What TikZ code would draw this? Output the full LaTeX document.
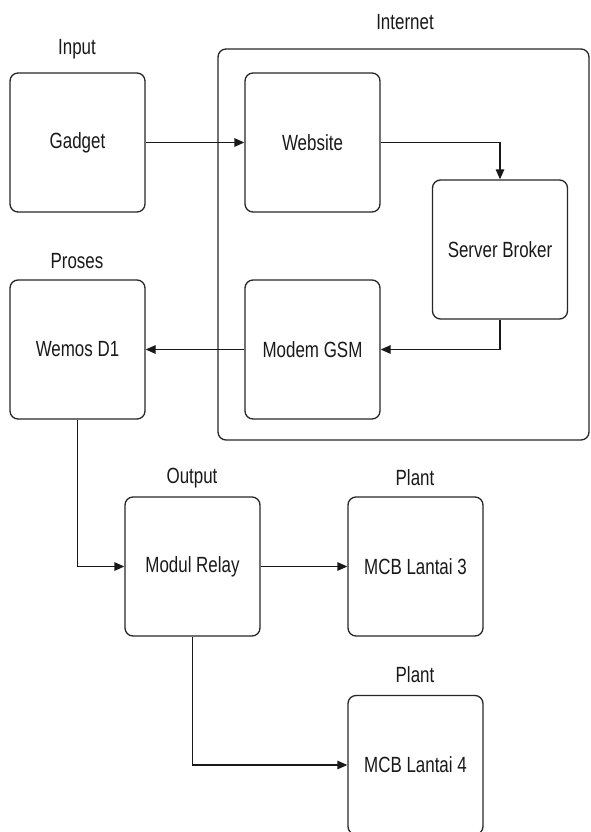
\documentclass[tikz,border=0pt]{standalone}
\usepackage{fontspec}
\setmainfont{Liberation Sans}[FakeStretch=0.77]
\usetikzlibrary{arrows.meta}
\begin{document}
\begin{tikzpicture}[x=1pt,y=-1pt,
 box/.style={draw=black!85, line width=1.3pt, rounded corners=8pt, minimum width=135pt, minimum height=139pt, inner sep=0pt, font=\fontsize{22}{25}\selectfont, text=black!90},
 lbl/.style={font=\fontsize{22}{25}\selectfont, inner sep=0pt, text=black!90},
 conn/.style={draw=black!90, line width=1.3pt, -{Triangle[length=10pt,width=8.5pt]}}]
\useasboundingbox (0,0) rectangle (590,832);
\clip (0,0) rectangle (590,832);
\node[draw=black!85, line width=1.3pt, rounded corners=8pt, minimum width=371pt, minimum height=391pt, inner sep=0pt] (inet) at (403.5,244.5) {};
\node[lbl] (linet) at (405,22) {Internet};
\node[box] (gadget) at (77.5,142.5) {Gadget};
\node[lbl] (linput) at (77,49) {Input};
\node[box] (website) at (312.5,142.5) {Website};
\node[box] (broker) at (500,249.5) {Server Broker};
\node[box] (modem) at (312.5,349.5) {Modem GSM};
\node[box] (wemos) at (77.5,349.5) {Wemos D1};
\node[lbl] (lproses) at (77,261) {Proses};
\node[box] (relay) at (192.5,566.5) {Modul Relay};
\node[lbl] (loutput) at (192,478) {Output};
\node[box] (mcb3) at (415.5,566.5) {MCB Lantai 3};
\node[lbl] (lplant3) at (415,478) {Plant};
\node[box] (mcb4) at (415.5,765) {MCB Lantai 4};
\node[lbl] (lplant4) at (415,675) {Plant};
\draw[conn] (gadget.east) -- (website.west);
\draw[conn] (website.east) -| (broker.north);
\draw[conn] (broker.south) |- (modem.east);
\draw[conn] (modem.west) -- (wemos.east);
\draw[conn] (wemos.south) |- (relay.west);
\draw[conn] (relay.east) -- (mcb3.west);
\draw[conn] (relay.south) |- (mcb4.west);
\end{tikzpicture}
\end{document}
